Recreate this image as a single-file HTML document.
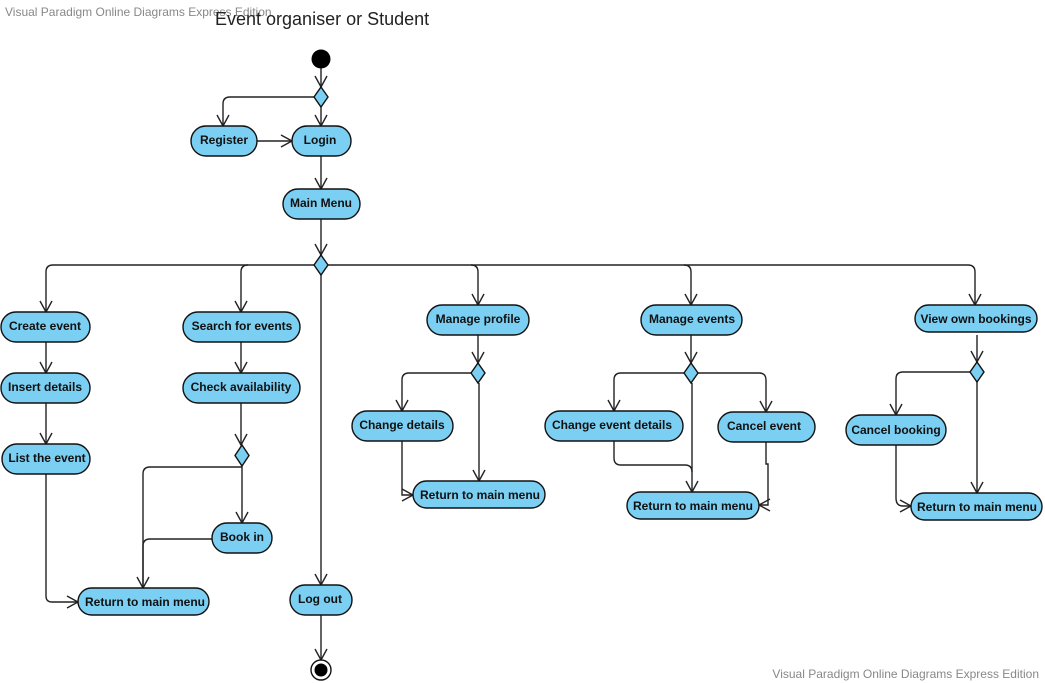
<!DOCTYPE html>
<html><head><meta charset="utf-8"><style>
html,body{margin:0;padding:0;background:#fff;width:1045px;height:683px;overflow:hidden}
svg text{font-family:"Liberation Sans",Arial,sans-serif}
.n{fill:#7acff2;stroke:#111;stroke-width:1.4}
.l{fill:none;stroke:#222;stroke-width:1.4}
.t{font-size:12px;font-weight:bold;fill:#111;text-anchor:middle}
</style></head><body>
<svg width="1045" height="683" viewBox="0 0 1045 683" xmlns="http://www.w3.org/2000/svg">
<text x="5" y="16" font-size="12" fill="#888">Visual Paradigm Online Diagrams Express Edition</text>
<text x="215" y="25" font-size="18" fill="#222">Event organiser or Student</text>
<text x="1039" y="678" font-size="12" fill="#888" text-anchor="end">Visual Paradigm Online Diagrams Express Edition</text>

<!-- connectors -->
<g class="l">
<path d="M321 68 V87"/><path d="M315 76 L321 87 L327 76"/>
<path d="M314 97 H230 Q223 97 223 104 V126"/><path d="M217 115 L223 126 L229 115"/>
<path d="M321 107 V126"/><path d="M315 115 L321 126 L327 115"/>
<path d="M257 141 H292"/><path d="M281 135 L292 141 L281 147"/>
<path d="M321 156 V189"/><path d="M315 178 L321 189 L327 178"/>
<path d="M321 219 V255"/><path d="M315 244 L321 255 L327 244"/>
<path d="M314 265 H53 Q46 265 46 272 V312"/><path d="M40 301 L46 312 L52 301"/>
<path d="M248 265 Q241 265 241 272 V312"/><path d="M235 301 L241 312 L247 301"/>
<path d="M328 265 H968 Q975 265 975 272 V305"/><path d="M969 294 L975 305 L981 294"/>
<path d="M471 265 Q478 265 478 272 V305"/><path d="M472 294 L478 305 L484 294"/>
<path d="M684 265 Q691 265 691 272 V305"/><path d="M685 294 L691 305 L697 294"/>
<path d="M321 275 V585"/><path d="M315 574 L321 585 L327 574"/>
<path d="M321 615 V660"/><path d="M315 649 L321 660 L327 649"/>
<!-- create column -->
<path d="M46 342 V373"/><path d="M40 362 L46 373 L52 362"/>
<path d="M46 403 V444"/><path d="M40 433 L46 444 L52 433"/>
<path d="M46 474 V596 Q46 602 52 602 H78"/><path d="M67 596 L78 602 L67 608"/>
<!-- search column -->
<path d="M241 342 V373"/><path d="M235 362 L241 373 L247 362"/>
<path d="M241 403 V445"/><path d="M235 434 L241 445 L247 434"/>
<path d="M242 466 V523"/><path d="M236 512 L242 523 L248 512"/>
<path d="M242 467 H150 Q143 467 143 474 V588"/>
<path d="M212 539 H150 Q143 539 143 546 V588"/><path d="M137 577 L143 588 L149 577"/>
<!-- manage profile -->
<path d="M478 335 V363"/><path d="M472 352 L478 363 L484 352"/>
<path d="M471 373 H409 Q402 373 402 380 V411"/><path d="M396 400 L402 411 L408 400"/>
<path d="M479 383 V481"/><path d="M473 470 L479 481 L485 470"/>
<path d="M402 441 V495 H413"/><path d="M402 489 L413 495 L402 501"/>
<!-- manage events -->
<path d="M691 335 V363"/><path d="M685 352 L691 363 L697 352"/>
<path d="M684 373 H621 Q614 373 614 380 V411"/><path d="M608 400 L614 411 L620 400"/>
<path d="M698 373 H759 Q766 373 766 380 V412"/><path d="M760 401 L766 412 L772 401"/>
<path d="M692 383 V492"/><path d="M686 481 L692 492 L698 481"/>
<path d="M614 441 V458 Q614 465 621 465 H685 Q692 465 692 472"/>
<path d="M766 442 V464 H768 V505 H759"/><path d="M770 499 L759 505 L770 511"/>
<!-- view bookings -->
<path d="M977 335 V362"/><path d="M971 351 L977 362 L983 351"/>
<path d="M970 372 H903 Q896 372 896 379 V415"/><path d="M890 404 L896 415 L902 404"/>
<path d="M977 382 V493"/><path d="M971 482 L977 493 L983 482"/>
<path d="M896 445 V498 Q896 506 903 506 H911"/><path d="M900 500 L911 506 L900 512"/>
</g>

<!-- start/end -->
<circle cx="321" cy="59" r="9.5" fill="#000"/>
<circle cx="321" cy="670" r="10" fill="#fff" stroke="#111" stroke-width="1.4"/>
<circle cx="321" cy="670" r="6.5" fill="#000"/>

<!-- diamonds -->
<g class="n">
<path d="M321 87 L328 97 L321 107 L314 97 Z"/>
<path d="M321 255 L328 265 L321 275 L314 265 Z"/>
<path d="M242 445 L249 455.5 L242 466 L235 455.5 Z"/>
<path d="M478 363 L485 373 L478 383 L471 373 Z"/>
<path d="M691 363 L698 373 L691 383 L684 373 Z"/>
<path d="M977 362 L984 372 L977 382 L970 372 Z"/>
</g>

<!-- nodes -->
<g class="n">
<rect x="191" y="126" width="66" height="30" rx="15"/>
<rect x="292" y="126" width="59" height="30" rx="15"/>
<rect x="283" y="189" width="77" height="30" rx="15"/>
<rect x="1" y="312" width="89" height="30" rx="15"/>
<rect x="1" y="373" width="89" height="30" rx="15"/>
<rect x="2" y="444" width="88" height="30" rx="15"/>
<rect x="183" y="312" width="117" height="30" rx="15"/>
<rect x="183" y="373" width="117" height="30" rx="15"/>
<rect x="212" y="523" width="60" height="30" rx="15"/>
<rect x="78" y="588" width="131" height="27" rx="13.5"/>
<rect x="290" y="585" width="62" height="30" rx="15"/>
<rect x="427" y="305" width="102" height="30" rx="15"/>
<rect x="352" y="411" width="101" height="30" rx="15"/>
<rect x="413" y="481" width="132" height="27" rx="13.5"/>
<rect x="641" y="305" width="101" height="30" rx="15"/>
<rect x="545" y="411" width="138" height="30" rx="15"/>
<rect x="718" y="412" width="97" height="30" rx="15"/>
<rect x="627" y="492" width="132" height="27" rx="13.5"/>
<rect x="915" y="305" width="122" height="27" rx="13.5"/>
<rect x="846" y="415" width="100" height="30" rx="15"/>
<rect x="911" y="493" width="131" height="27" rx="13.5"/>
</g>

<g class="t">
<text x="224" y="144">Register</text>
<text x="320" y="144">Login</text>
<text x="321" y="207">Main Menu</text>
<text x="45" y="330">Create event</text>
<text x="45" y="391">Insert details</text>
<text x="47" y="462">List the event</text>
<text x="242" y="330">Search for events</text>
<text x="241" y="391">Check availability</text>
<text x="242" y="541">Book in</text>
<text x="145" y="606">Return to main menu</text>
<text x="320" y="603">Log out</text>
<text x="478" y="323">Manage profile</text>
<text x="402" y="429">Change details</text>
<text x="480" y="499">Return to main menu</text>
<text x="692" y="323">Manage events</text>
<text x="612" y="429">Change event details</text>
<text x="764" y="430">Cancel event</text>
<text x="693" y="510">Return to main menu</text>
<text x="976" y="323">View own bookings</text>
<text x="896" y="434">Cancel booking</text>
<text x="977" y="511">Return to main menu</text>
</g>
</svg>
</body></html>
